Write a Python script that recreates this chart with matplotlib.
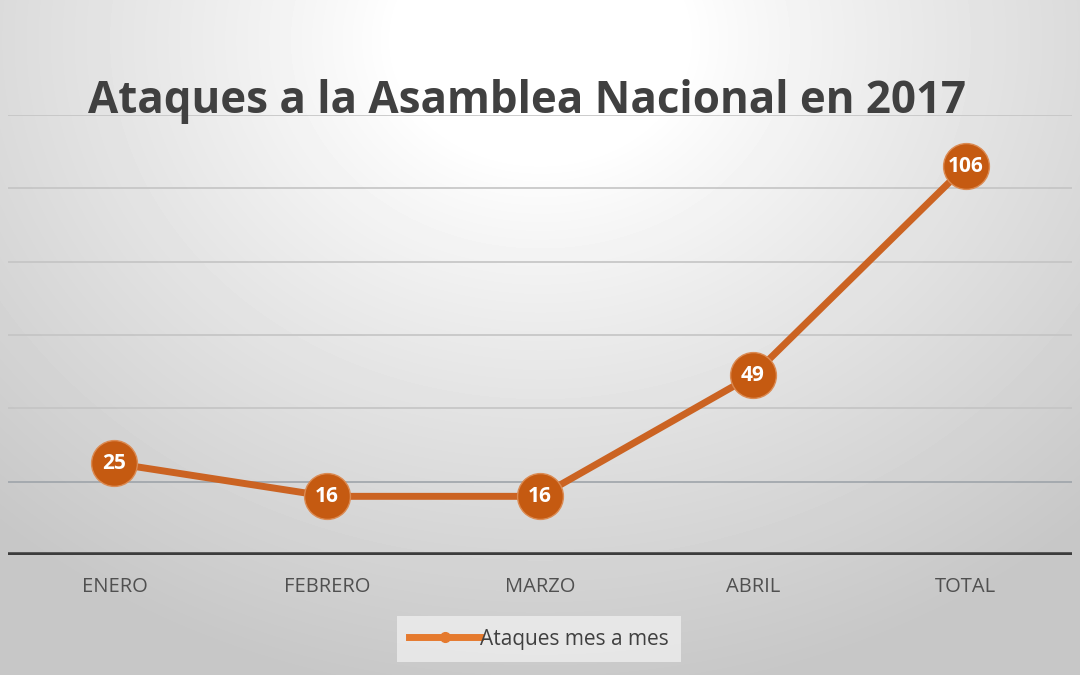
import numpy as np
import matplotlib
matplotlib.use("Agg")
import matplotlib.pyplot as plt

# data
categories = ["ENERO", "FEBRERO", "MARZO", "ABRIL", "TOTAL"]
ataques = [25, 16, 16, 49, 106]
title = "Ataques a la Asamblea Nacional en 2017"
seriesName = "Ataques mes a mes"

lineColor = "#CB6322"
markerColor = "#C55A11"
legendColor = "#E57A2E"

plt.rcParams["font.family"] = ["Open Sans", "DejaVu Sans"]

fig = plt.figure(figsize=(10.8, 6.75), dpi=100)

# radial grey background
bg = fig.add_axes([0, 0, 1, 1], zorder=-10)
yy, xx = np.mgrid[0:675, 0:1080]
dist = np.sqrt(((xx - 540) / 1.2) ** 2 + (yy - 40) ** 2)
shade = np.clip((dist - 120) / 540, 0, 1)
grey = 1.0 - 0.22 * shade ** 0.9
bg.imshow(grey, cmap="gray", vmin=0, vmax=1, aspect="auto", extent=[0, 1, 0, 1])
bg.axis("off")

ax = fig.add_axes([8 / 1080, 120 / 675, 1064 / 1080, 440 / 675])
ax.patch.set_alpha(0)
x = np.arange(len(categories))

for g in [20, 40, 60, 80, 100, 120]:
    ax.axhline(g, color="#9EA4AA" if g == 20 else "#C4C4C4", lw=1.2, zorder=1)
ax.axhline(0, color="#3C3C3C", lw=4, zorder=2)

ax.plot(x, ataques, color=lineColor, lw=5, zorder=3, solid_capstyle="round")
ax.plot(x, ataques, "o", color=markerColor, markersize=33, zorder=4,
        markeredgecolor="#DB8A52", markeredgewidth=1.0)
for xi, v in zip(x, ataques):
    ax.text(xi, v, str(v), ha="center", va="center", color="white",
            fontsize=15, fontweight="bold", zorder=5)

ax.set_xlim(-0.5, len(categories) - 0.5)
ax.set_ylim(0, 120)
ax.set_xticks(x)
ax.set_xticklabels(categories, fontsize=14.5, color="#505050")
ax.tick_params(axis="x", length=0, pad=16)
ax.set_yticks([])
for s in ax.spines.values():
    s.set_visible(False)

fig.text(527 / 1080, 1 - 102 / 675, title, ha="center", va="center",
         fontsize=31.6, fontweight="bold", color="#404040")

handle, = ax.plot([], [], color=legendColor, lw=5, marker="o", markersize=7)
leg = fig.legend([handle], [seriesName], loc="center",
                 bbox_to_anchor=(539 / 1080, 1 - 639 / 675), fontsize=15,
                 frameon=True, fancybox=False, handlelength=3.4,
                 handletextpad=0.0, borderpad=0.6, borderaxespad=0,
                 labelcolor="#404040")
leg.get_frame().set_facecolor("#EEEEEE")
leg.get_frame().set_edgecolor("none")
leg.get_frame().set_alpha(0.8)

fig.savefig("out.png", dpi=100)
